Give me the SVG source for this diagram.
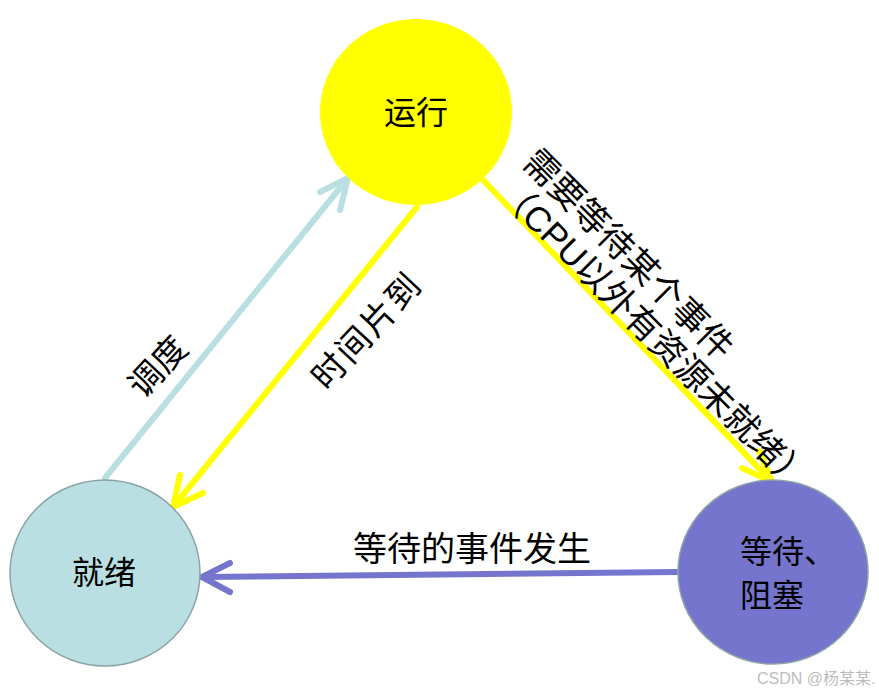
<svg xmlns="http://www.w3.org/2000/svg" width="879" height="693" viewBox="0 0 879 693">
<style>
text{font-family:"Liberation Sans","Noto Sans CJK SC",sans-serif;fill:#000}
.lbl{font-size:32px}
.edge{font-size:34px}
.ln{fill:none;stroke-width:6;stroke-linecap:round;stroke-linejoin:round}
.blue{stroke:#B9DFE3}
.yel{stroke:#FFFF00}
.pur{stroke:#7575CD}
</style>
<rect width="879" height="693" fill="#fff"/>
<g id="connectors">
  <g id="e-schedule">
    <path class="ln blue" d="M105,478 L348,178"/>
    <path class="ln blue" d="M320,192 L348,178 L340,210"/>
  </g>
  <g id="e-timeslice">
    <path class="ln yel" d="M417,207 L173,507"/>
    <path class="ln yel" d="M180,475 L173,507 L203,493"/>
  </g>
  <g id="e-wait">
    <path class="ln yel" d="M483,180 L772,482"/>
    <path class="ln yel" d="M742,468 L772,482 L759,451"/>
  </g>
  <g id="e-event">
    <path class="ln pur" d="M678,572 L202,577"/>
    <path class="ln pur" d="M230,563 L202,577 L230,592"/>
  </g>
  <text class="edge" transform="translate(157,366) rotate(-47)" text-anchor="middle" y="13">调度</text>
  <text class="edge" transform="translate(366,330) rotate(-47)" text-anchor="middle" y="13" letter-spacing="2">时间片到</text>
  <g transform="translate(521,164) rotate(45)" style="font-size:35px">
    <text x="0" y="0">需要等待某个事件</text>
    <text x="3" y="39">（CPU以外有资源未就绪）</text>
  </g>
  <text class="edge" x="472" y="561" text-anchor="middle">等待的事件发生</text>
</g>
<g id="running">
  <ellipse cx="416" cy="112" rx="96" ry="93" fill="#FFFF00"/>
  <text class="lbl" x="416" y="124" text-anchor="middle">运行</text>
</g>
<g id="ready">
  <ellipse cx="105" cy="573" rx="95" ry="93" fill="#B9DFE3" stroke="#8CA3A6" stroke-width="1.5"/>
  <text class="lbl" x="104" y="584" text-anchor="middle">就绪</text>
</g>
<g id="blocked">
  <ellipse cx="773" cy="572" rx="95" ry="92" fill="#7575CD" stroke="#8CA3A6" stroke-width="1.5"/>
  <text class="lbl" x="740" y="563">等待、</text>
  <text class="lbl" x="740" y="607">阻塞</text>
</g>
<text x="757" y="684" style="font-size:16px;fill:#BDBDBD">CSDN @杨某某.</text>
</svg>
